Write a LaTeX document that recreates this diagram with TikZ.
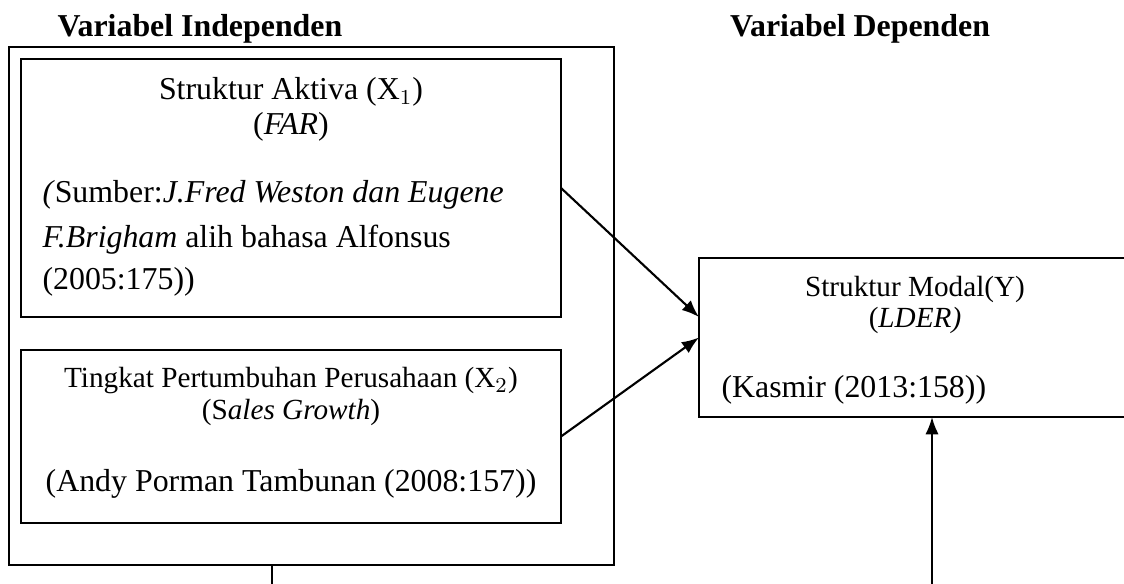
\documentclass[tikz,border=0pt]{standalone}
\usepackage{fontspec}
\setmainfont{Liberation Serif}
\usetikzlibrary{arrows.meta, fit}

\begin{document}
\begin{tikzpicture}[x=0.3766pt, y=-0.3766pt,
		>={Latex[length=6.5pt,width=5pt]},   %Pfeilspitzen
		kasten/.style={draw, line width=0.6pt, inner sep=0pt, outer sep=0pt},
		gross/.style={inner sep=0pt, font=\fontsize{12}{14}\selectfont},
		klein/.style={inner sep=0pt, font=\fontsize{11}{13}\selectfont},
		titel/.style={inner sep=0pt, font=\fontsize{12}{14}\selectfont\bfseries},
		pfeil/.style={->, line width=0.8pt}]
		%Bildbereich
		\useasboundingbox (0,0) rectangle (1124,584);
		\clip (0,0) rectangle (1124,584);
		% Ueberschriften
		\node[titel, anchor=base west] (titelx) at (57,37) {Variabel Independen};
		\node[titel, anchor=base] (titely) at (860,37) {Variabel Dependen};
		% Kaesten zeichnen
		\node[kasten, fit={(9,47) (614,565)}] (aussen) {};
		\node[kasten, fit={(21,59) (561,317)}] (xeins) {};
		\node[kasten, fit={(21,350) (561,523)}] (xzwei) {};
		\node[kasten, fit={(699,258) (1165,417)}] (ybox) {};
		% Texte X1
		\node[gross, anchor=base] (xeinsname) at (291,100) {Struktur Aktiva ($\mathrm{X}_1$)};
		\node[gross, anchor=base] (xeinsmass) at (291,135) {(\textit{FAR})};
		\node[gross, anchor=base west] (xeinsq1) at (42,203) {\textit{(}Sumber:\textit{J.Fred Weston dan Eugene}};
		\node[gross, anchor=base west] (xeinsq2) at (42,248) {\textit{F.Brigham} alih bahasa Alfonsus};
		\node[gross, anchor=base west] (xeinsq3) at (42,290) {(2005:175))};
		% Texte X2
		\node[klein, anchor=base] (xzweiname) at (291,388) {Tingkat Pertumbuhan Perusahaan ($\mathrm{X}_2$)};
		\node[klein, anchor=base] (xzweimass) at (291,420) {(S\textit{ales Growth})};
		\node[gross, anchor=base] (xzweiq) at (291,492) {(Andy Porman Tambunan (2008:157))};
		% Texte Y
		\node[klein, anchor=base] (yname) at (915,297) {Struktur Modal(Y)};
		\node[klein, anchor=base] (ymass) at (915,328) {(\textit{LDER)}};
		\node[gross, anchor=base west] (yq) at (721,398) {(Kasmir (2013:158))};
		% Pfeile
		\draw[pfeil] (xeins.east) -- ([yshift=7.7pt]ybox.west);
		\draw[pfeil] (xzwei.east) -- (ybox.west);
		\coordinate (untenx) at (272,584);
		\coordinate (unteny) at (932,584);
		\draw[line width=0.6pt] (aussen.south -| untenx) -- (untenx);
		\draw[pfeil] (unteny) -- (unteny |- ybox.south);
	\end{tikzpicture}
\end{document}
